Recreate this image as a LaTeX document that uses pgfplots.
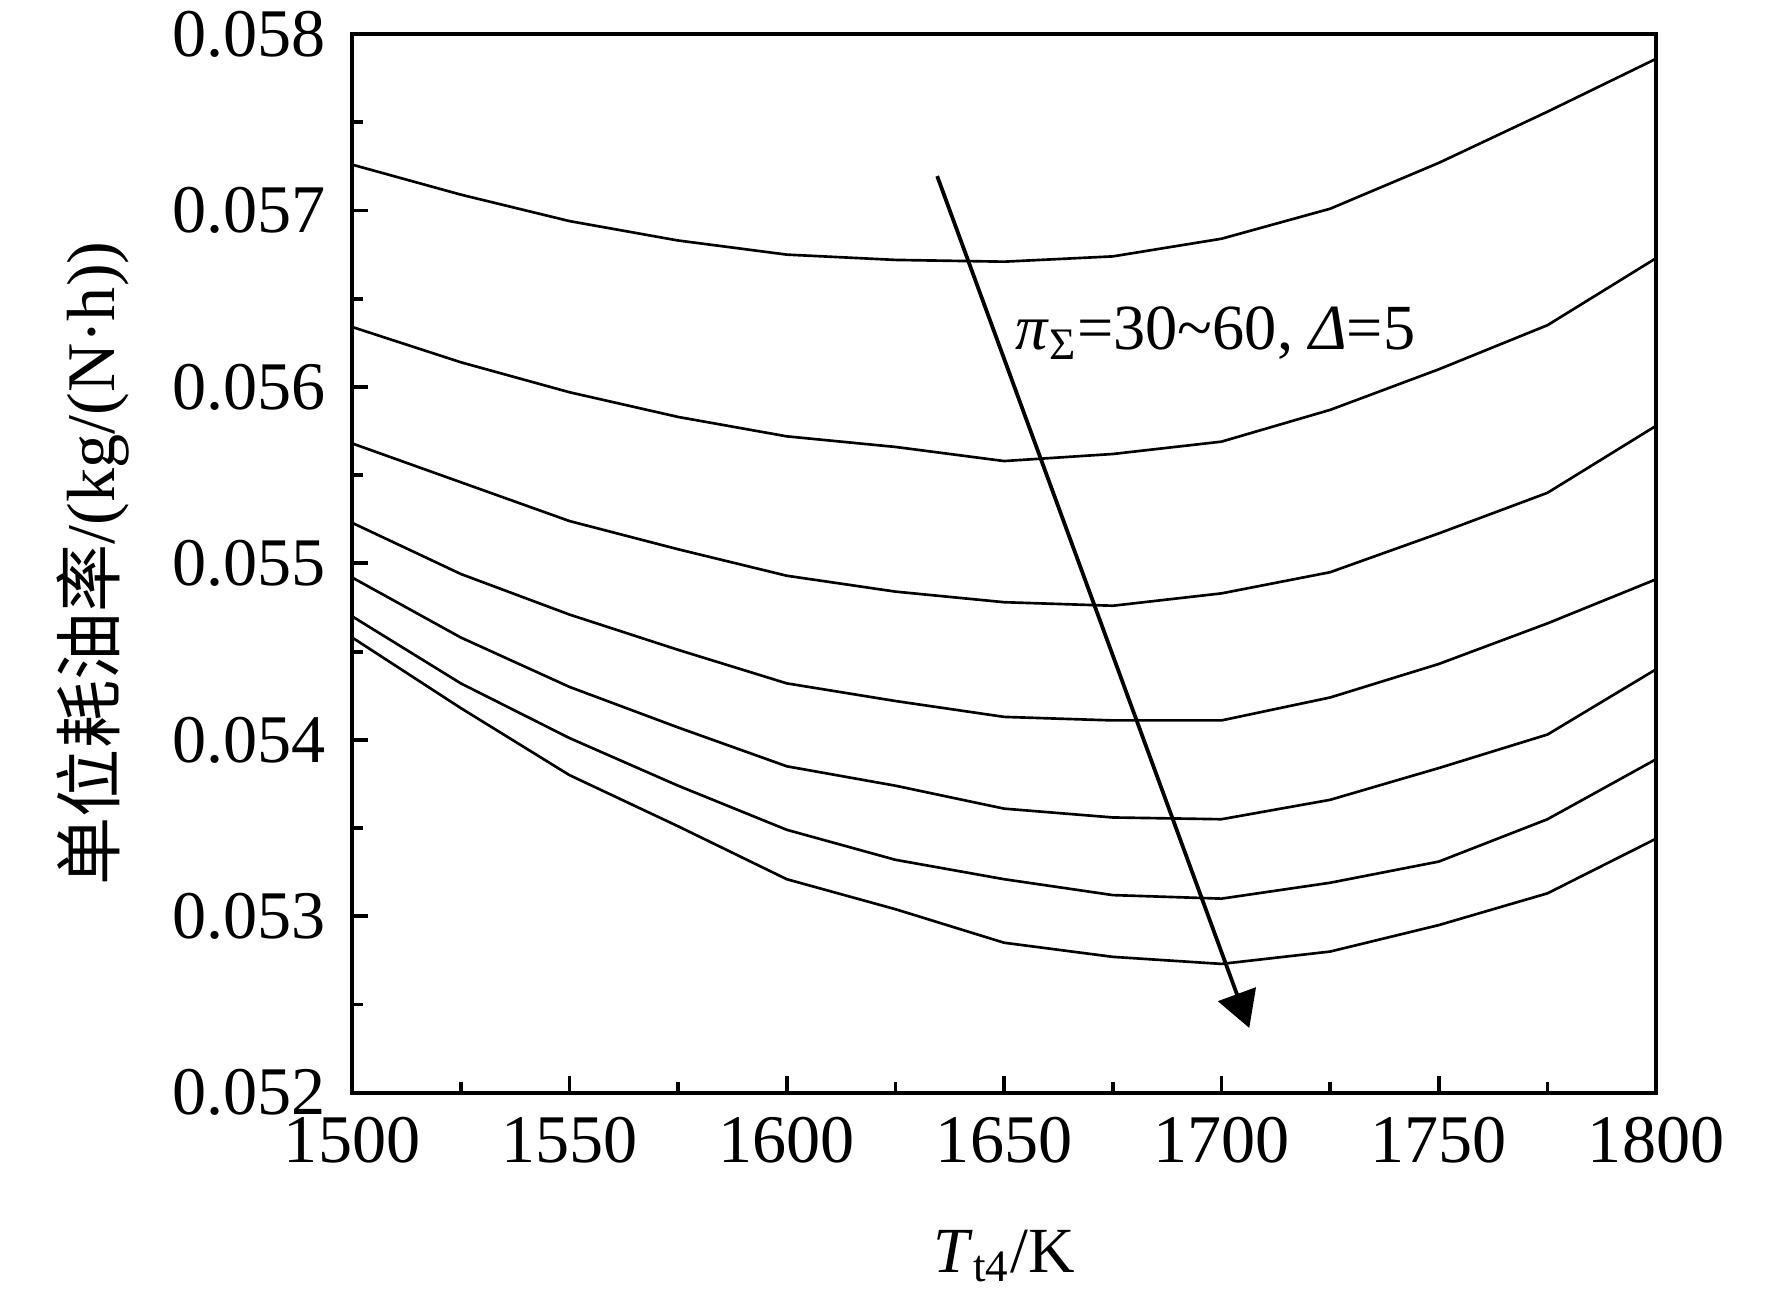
\documentclass[border=0pt]{standalone}
\usepackage{pgfplots}
\pgfplotsset{compat=1.18}
\usepackage{fontspec}
\setmainfont{Liberation Serif}
\newfontfamily\cjk{Noto Sans CJK SC}
\usetikzlibrary{arrows.meta}
\newcommand{\fs}{\fontsize{18}{21}\selectfont}
\begin{document}
\begin{tikzpicture}
\begin{axis}[name=ax,
  width=344.4pt, height=279.6pt, scale only axis,
  xmin=1500, xmax=1800, ymin=0.052, ymax=0.058,
  xtick={1500,1550,1600,1650,1700,1750,1800},
  ytick={0.052,0.053,0.054,0.055,0.056,0.057,0.058},
  minor x tick num=1, minor y tick num=1,
  tick align=inside, xtick pos=bottom, ytick pos=left,
  major tick length=4.3pt, minor tick length=2.8pt,
  every tick/.style={black, line width=1pt},
  axis line style={line width=1.1pt},
  scaled y ticks=false,
  tick label style={font=\fs},
  yticklabel style={xshift=-3.5pt, /pgf/number format/.cd, fixed, fixed zerofill, precision=3, assume math mode=true},
  xticklabel style={yshift=-3pt, /pgf/number format/.cd, 1000 sep={}, assume math mode=true},
  every axis y label/.style={at={(axis description cs:-0.1986,0.5)}, rotate=90, anchor=center},
  every axis x label/.style={at={(axis description cs:0.5,-0.1695)}, anchor=base},
  ylabel={\fs{\cjk 单位耗油率}/(kg/(N·h))},
  xlabel={\fontsize{17}{20}\selectfont\textit{T}\textsubscript{t4}/K},
  clip=false,
]
\addplot[black, line width=0.7pt] coordinates {(1500,0.05726)(1525,0.05709)(1550,0.05694)(1575,0.05683)(1600,0.05675)(1625,0.05672)(1650,0.05671)(1675,0.05674)(1700,0.05684)(1725,0.05701)(1750,0.05727)(1775,0.05756)(1800,0.05786)};
\addplot[black, line width=0.7pt] coordinates {(1500,0.05634)(1525,0.05614)(1550,0.05597)(1575,0.05583)(1600,0.05572)(1625,0.05566)(1650,0.05558)(1675,0.05562)(1700,0.05569)(1725,0.05587)(1750,0.05610)(1775,0.05635)(1800,0.05673)};
\addplot[black, line width=0.7pt] coordinates {(1500,0.05568)(1525,0.05546)(1550,0.05524)(1575,0.05508)(1600,0.05493)(1625,0.05484)(1650,0.05478)(1675,0.05476)(1700,0.05483)(1725,0.05495)(1750,0.05517)(1775,0.05540)(1800,0.05578)};
\addplot[black, line width=0.7pt] coordinates {(1500,0.05523)(1525,0.05494)(1550,0.05471)(1575,0.05451)(1600,0.05432)(1625,0.05422)(1650,0.05413)(1675,0.05411)(1700,0.05411)(1725,0.05424)(1750,0.05443)(1775,0.05466)(1800,0.05491)};
\addplot[black, line width=0.7pt] coordinates {(1500,0.05492)(1525,0.05458)(1550,0.05430)(1575,0.05407)(1600,0.05385)(1625,0.05374)(1650,0.05361)(1675,0.05356)(1700,0.05355)(1725,0.05366)(1750,0.05384)(1775,0.05403)(1800,0.05440)};
\addplot[black, line width=0.7pt] coordinates {(1500,0.05470)(1525,0.05432)(1550,0.05401)(1575,0.05374)(1600,0.05349)(1625,0.05332)(1650,0.05321)(1675,0.05312)(1700,0.05310)(1725,0.05319)(1750,0.05331)(1775,0.05355)(1800,0.05389)};
\addplot[black, line width=0.7pt] coordinates {(1500,0.05458)(1525,0.05418)(1550,0.05380)(1575,0.05351)(1600,0.05321)(1625,0.05304)(1650,0.05285)(1675,0.05277)(1700,0.05273)(1725,0.05280)(1750,0.05295)(1775,0.05313)(1800,0.05344)};
\draw[line width=1pt, -{Triangle[length=9.5pt,width=10.5pt]}] (axis cs:1634.6,0.057195) -- (axis cs:1706.4,0.052367);
\node[anchor=base west, font=\fontsize{17}{20}\selectfont, inner sep=0pt] at (axis cs:1652.4,0.05621) {\textit{π}\textsubscript{Σ}=30\textasciitilde60, \textit{Δ}=5};
\end{axis}
\pgfresetboundingbox
\path[use as bounding box] ([shift={(-93pt,-54.9pt)}]ax.south west) rectangle ([shift={(30.6pt,9pt)}]ax.north east);
\end{tikzpicture}
\end{document}
